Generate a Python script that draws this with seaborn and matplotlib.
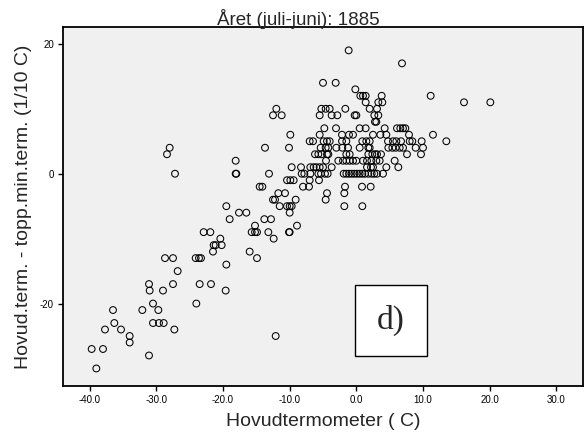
import numpy as np
import pandas as pd
import matplotlib
matplotlib.use("Agg")
import matplotlib.pyplot as plt
import seaborn as sns
from matplotlib.patches import Rectangle

# hovudtermometer (C), one list per y-row (1/10 C)
rows = {
    19: [-1.15],
    17: [6.85],
    14: [-5.0, -3.1],
    13: [-0.15],
    12: [0.6, 1.0, 1.4, 3.8, 11.15],
    11: [1.4, 3.3, 3.9, 16.15, 20.1],
    10: [-12.0, -5.25, -4.6, -4.0, -1.65, 2.0, 3.1],
    9: [-12.5, -11.2, -5.5, -3.7, -2.85, -0.25, 0.0, 2.7, 3.3],
    8: [2.8, 3.0],
    7: [-4.8, -3.05, 0.5, 1.4, 4.25, 6.1, 6.6, 7.0, 7.35],
    6: [-9.9, -5.5, -2.15, -1.1, -0.5, 2.5, 3.6, 4.5, 7.9, 11.5],
    5: [-7.0, -6.5, -4.9, -4.4, -4.0, -2.15, -1.5, 0.9, 1.5, 2.0, 4.75, 5.5,
        6.0, 6.7, 8.0, 8.4, 9.8, 13.5],
    4: [-28.0, -13.7, -10.1, -5.35, -4.6, -4.2, -3.0, -2.1, -1.25, 0.5, 1.8,
        2.0, 4.8, 5.4, 5.9, 6.5, 7.0, 8.9, 10.0],
    3: [-28.4, -6.2, -5.7, -5.2, -4.4, -4.2, -1.5, -1.0, 1.8, 2.4, 2.8, 3.1,
        3.7, 7.6, 9.7],
    2: [-18.1, -4.55, -2.7, -2.0, -1.5, -1.0, -0.5, 0.0, 1.0, 1.6, 2.25, 3.0,
        3.5, 5.75],
    1: [-9.7, -8.3, -6.9, -6.4, -6.0, -5.5, -5.0, -3.7, 1.6, 2.2, 2.5, 4.5, 6.3],
    0: [-27.2, -18.1, -18.0, -13.1, -8.2, -7.8, -6.9, -5.7, -5.3, -4.7, -4.3,
        -1.9, -1.5, -1.1, -0.7, -0.3, 0.1, 0.5, 0.9, 1.3, 1.8, 2.3, 2.7, 3.1, 4.0],
    -1: [-10.4, -9.9, -9.4, -7.0, -5.6],
    -2: [-14.5, -14.1, -8.0, -7.1, -1.7, 0.85, 2.15],
    -3: [-11.7, -10.7, -4.4, -1.8],
    -4: [-12.5, -12.2, -9.1, -4.6],
    -5: [-19.5, -11.5, -10.4, -10.0, -9.7, -1.8, 0.9],
    -6: [-17.6, -16.5, -10.0],
    -7: [-19.0, -13.8, -12.8],
    -8: [-15.2, -8.9],
    -9: [-22.9, -21.9, -15.7, -15.2, -14.9, -13.2, -10.1, -10.0],
    -10: [-20.4, -12.4],
    -11: [-21.4, -21.1, -20.2],
    -12: [-21.5, -16.0],
    -13: [-28.7, -27.5, -24.1, -23.6, -23.3, -14.9],
    -14: [-19.5],
    -15: [-26.8],
    -17: [-31.1, -27.5, -23.5, -21.8],
    -18: [-31.0, -29.0, -19.6],
    -20: [-30.5, -24.0],
    -21: [-36.5, -32.1, -29.7],
    -23: [-36.3, -30.5, -29.6, -28.9],
    -24: [-37.7, -35.3, -27.3],
    -25: [-34.0, -12.1],
    -26: [-34.0],
    -27: [-39.7, -38.0],
    -28: [-31.1],
    -30: [-39.0],
}

hovud = []
diff = []
for yv, xs in rows.items():
    for xv in xs:
        hovud.append(xv)
        diff.append(yv)

df = pd.DataFrame({"hovud": hovud, "diff": diff})

x_ticks = [-40, -30, -20, -10, 0, 10, 20, 30]
y_ticks = [-20, 0, 20]

sns.set_style("ticks")
plt.rcParams["font.family"] = ["Liberation Sans", "DejaVu Sans"]

fig = plt.figure(figsize=(5.88, 4.41), dpi=100)
ax = fig.add_axes([63 / 588, 1 - 386 / 441, 520 / 588, 359 / 441])
ax.set_facecolor("#f0f0f0")

sns.scatterplot(data=df, x="hovud", y="diff", ax=ax, marker="o", s=24,
                facecolor="none", edgecolor="black", linewidth=0.75)

ax.set_xlim(-44.0, 34.0)
ax.set_ylim(-32.7, 22.6)
ax.set_xticks(x_ticks)
ax.set_xticklabels([f"{t:.1f}" for t in x_ticks], fontsize=7)
ax.set_yticks(y_ticks)
ax.set_yticklabels([str(t) for t in y_ticks], fontsize=7)
ax.tick_params(direction="out", length=3.5, width=1, colors="black", pad=3)
for sp in ax.spines.values():
    sp.set_visible(True)
    sp.set_linewidth(1.3)
    sp.set_color("black")

ax.set_xlabel("Hovudtermometer ( C)", fontsize=14, labelpad=6)
ax.set_ylabel("Hovud.term. - topp.min.term. (1/10 C)", fontsize=14, labelpad=6)

fig.text(298 / 588, 1 - 25 / 441, "Året (juli-juni): 1885", ha="center",
         va="baseline", fontsize=13.5)

ax.add_patch(Rectangle((0.5615, 0.0836), 0.1385, 0.1975, transform=ax.transAxes,
                       facecolor="white", edgecolor="black", linewidth=1.0, zorder=5))
ax.text(0.631, 0.182, "d)", transform=ax.transAxes, ha="center", va="center",
        fontsize=24, family=["Liberation Serif", "DejaVu Serif"], zorder=6)

fig.savefig("out.png", dpi=100)
